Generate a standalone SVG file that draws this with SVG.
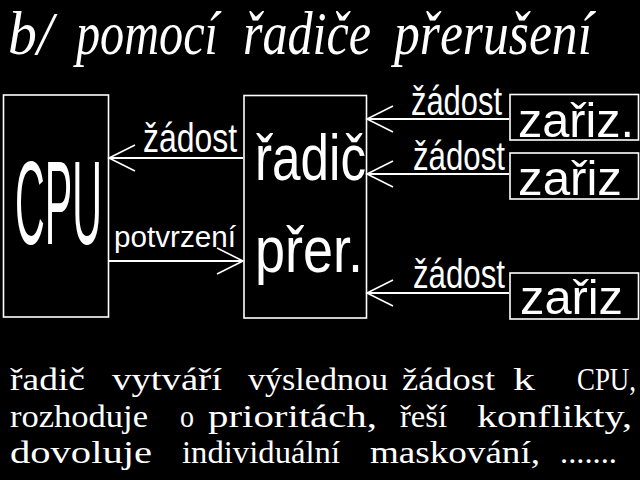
<svg xmlns="http://www.w3.org/2000/svg" width="640" height="480" viewBox="0 0 640 480">
<style>
.box{fill:none;stroke:#fff;stroke-width:1.6}
.conn{stroke:#fff;stroke-width:2;fill:none}
.s{font-family:"Liberation Sans",Arial,sans-serif;fill:#fff}
.r{font-family:"Liberation Serif","Times New Roman",serif;fill:#fff;font-size:32px}
.t{font-family:"Liberation Serif","Times New Roman",serif;font-style:italic;fill:#fff;font-size:62px}
</style>
<defs>
<marker id="ah" markerUnits="userSpaceOnUse" viewBox="-28 -15 30 30" refX="0" refY="0" markerWidth="30" markerHeight="30" orient="auto">
<path d="M-26,-13 L0,0 L-26,13" fill="none" stroke="#fff" stroke-width="1.6"/>
</marker>
</defs>
<rect width="640" height="480" fill="#000"/>
<g id="title">
<text class="t" x="8" y="54" textLength="45" lengthAdjust="spacingAndGlyphs">b/</text>
<text class="t" x="76" y="54" textLength="142" lengthAdjust="spacingAndGlyphs">pomocí</text>
<text class="t" x="243" y="54" textLength="128" lengthAdjust="spacingAndGlyphs">řadiče</text>
<text class="t" x="394" y="54" textLength="198" lengthAdjust="spacingAndGlyphs">přerušení</text>
</g>
<g id="cpu">
<rect class="box" x="3.5" y="95" width="105" height="222"/>
<text class="s" transform="translate(15,244) scale(0.349,1)" font-size="118">CPU</text>
</g>
<g id="radic">
<rect class="box" x="244" y="95.5" width="122.5" height="222.5"/>
<text class="s" x="255" y="180" font-size="64" textLength="111" lengthAdjust="spacingAndGlyphs">řadič</text>
<text class="s" x="255" y="272" font-size="64" textLength="108" lengthAdjust="spacingAndGlyphs">přer.</text>
</g>
<g id="zariz1">
<rect class="box" x="510" y="94.5" width="128.5" height="45.5"/>
<text class="s" x="518" y="137" font-size="48" textLength="116" lengthAdjust="spacingAndGlyphs">zařiz.</text>
</g>
<g id="zariz2">
<rect class="box" x="510" y="153" width="128.5" height="46"/>
<text class="s" x="518" y="195" font-size="48" textLength="104" lengthAdjust="spacingAndGlyphs">zařiz</text>
</g>
<g id="zariz3">
<rect class="box" x="510" y="273" width="128.5" height="46"/>
<text class="s" x="520" y="314" font-size="48" textLength="103" lengthAdjust="spacingAndGlyphs">zařiz</text>
</g>
<g id="connectors">
<line class="conn" x1="509" y1="119" x2="367" y2="119" marker-end="url(#ah)"/>
<line class="conn" x1="509" y1="174" x2="367" y2="174" marker-end="url(#ah)"/>
<line class="conn" x1="509" y1="293" x2="367" y2="293" marker-end="url(#ah)"/>
<line class="conn" x1="243" y1="158" x2="109" y2="158" marker-end="url(#ah)"/>
<line class="conn" x1="109" y1="261" x2="243" y2="261" marker-end="url(#ah)"/>
<text class="s" x="411" y="115" font-size="40" textLength="91" lengthAdjust="spacingAndGlyphs">žádost</text>
<text class="s" x="413" y="170" font-size="40" textLength="92" lengthAdjust="spacingAndGlyphs">žádost</text>
<text class="s" x="413" y="288" font-size="40" textLength="92" lengthAdjust="spacingAndGlyphs">žádost</text>
<text class="s" x="143" y="152" font-size="40" textLength="94" lengthAdjust="spacingAndGlyphs">žádost</text>
<text class="s" x="114" y="247" font-size="30" textLength="122" lengthAdjust="spacingAndGlyphs">potvrzení</text>
</g>
<g id="description">
<text class="r" x="10" y="390" textLength="75" lengthAdjust="spacingAndGlyphs">řadič</text>
<text class="r" x="112" y="390" textLength="110" lengthAdjust="spacingAndGlyphs">vytváří</text>
<text class="r" x="248" y="390" textLength="140" lengthAdjust="spacingAndGlyphs">výslednou</text>
<text class="r" x="402" y="390" textLength="93" lengthAdjust="spacingAndGlyphs">žádost</text>
<text class="r" x="513" y="390" textLength="22" lengthAdjust="spacingAndGlyphs">k</text>
<text class="r" transform="translate(577,390) scale(0.84,1)">CPU,</text>
<text class="r" x="10" y="427" textLength="138" lengthAdjust="spacingAndGlyphs">rozhoduje</text>
<text class="r" x="180" y="427" textLength="14" lengthAdjust="spacingAndGlyphs">o</text>
<text class="r" x="208" y="427" textLength="169" lengthAdjust="spacingAndGlyphs">prioritách,</text>
<text class="r" x="400" y="427" textLength="47" lengthAdjust="spacingAndGlyphs">řeší</text>
<text class="r" x="477" y="427" textLength="155" lengthAdjust="spacingAndGlyphs">konflikty,</text>
<text class="r" x="10" y="463" textLength="142" lengthAdjust="spacingAndGlyphs">dovoluje</text>
<text class="r" x="182" y="463" textLength="158" lengthAdjust="spacingAndGlyphs">individuální</text>
<text class="r" x="370" y="463" textLength="170" lengthAdjust="spacingAndGlyphs">maskování,</text>
<text class="r" x="560" y="463" textLength="57" lengthAdjust="spacingAndGlyphs">.......</text>
</g>
</svg>
